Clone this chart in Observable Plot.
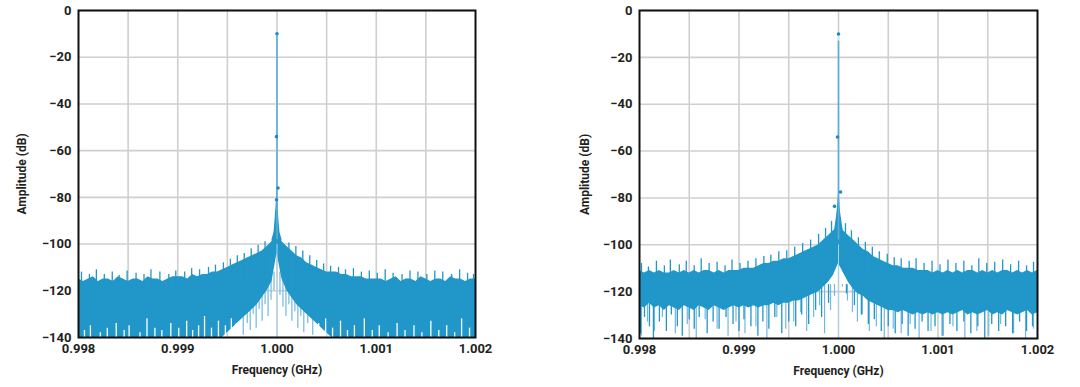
<!DOCTYPE html>
<html><head><meta charset="utf-8">
<script src="https://cdn.jsdelivr.net/npm/d3@7"></script>
<script src="https://cdn.jsdelivr.net/npm/@observablehq/plot@0.6"></script>
<style>
html,body{margin:0;padding:0;background:#fff;}
#wrap{display:flex;width:1080px;height:387px;}
#wrap > div{width:540px;height:387px;}
</style></head>
<body><div id="wrap"><div id="left"></div><div id="right"></div></div>
<script>
// ---- data (GHz, dB) ----
const freqGrid = [0.998,0.99805,0.9981,0.99815,0.9982,0.99825,0.9983,0.99835,0.9984,0.99845,0.9985,0.99855,0.9986,0.99865,0.9987,0.99875,0.9988,0.99885,0.9989,0.99895,
 0.999,0.99905,0.9991,0.99915,0.9992,0.99925,0.9993,0.99935,0.9994,0.99945,
 0.9995,0.99955,0.9996,0.99965,0.9997,0.99975,0.9998,0.99985,0.9999,0.99995,
 1.0,
 1.00005,1.0001,1.00015,1.0002,1.00025,1.0003,1.00035,1.0004,1.00045,1.0005,
 1.00055,1.0006,1.00065,1.0007,1.00075,1.0008,1.00085,1.0009,1.00095,1.001,
 1.00105,1.0011,1.00115,1.0012,1.00125,1.0013,1.00135,1.0014,1.00145,1.0015,1.00155,1.0016,1.00165,1.0017,1.00175,1.0018,1.00185,1.0019,1.00195,1.002];

// left panel: noise band envelope
const leftTop = [-115,-116,-115,-114,-116,-115,-115,-116,-114,-115,-116,-115,-115,-116,-114,-115,-115,-116,-115,-114,
 -114,-114,-115,-113,-114,-113,-113,-112,-112,-111,
 -110,-109,-108,-107,-106,-105,-104,-103,-101,-99,
 -98,
 -99,-101,-103,-105,-106,-108,-109,-110,-111,-112,
 -112,-112,-113,-113,-114,-114,-114,-115,-115,-115,
 -115,-116,-115,-114,-116,-115,-115,-116,-114,-115,-116,-115,-115,-116,-114,-115,-115,-116,-115,-115];
const leftBottom = [-140,-140,-140,-140,-140,-140,-140,-140,-140,-140,-140,-140,-140,-140,-140,-140,-140,-140,-140,-140,
 -140,-140,-140,-140,-140,-140,-140,-140,-140,-140,
 -138,-136,-134,-132,-130,-128,-126,-123,-120,-116,
 -104,
 -115,-120,-123,-126,-128,-130,-132,-134,-136,-138,
 -140,-140,-140,-140,-140,-140,-140,-140,-140,-140,
 -140,-140,-140,-140,-140,-140,-140,-140,-140,-140,-140,-140,-140,-140,-140,-140,-140,-140,-140,-140];
// left: noise peaks above the envelope
const leftPeakF = [0.99803,0.99811,0.99818,0.99826,0.99834,0.99841,0.99849,0.99858,0.99866,0.99873,0.99882,0.99891,0.99898,0.99907,0.99914,0.99922,0.99931,0.99938,0.99946,0.99953,0.9996,0.99967,0.99974,0.99981,0.99988,
 1.00012,1.00019,1.00026,1.00033,1.0004,1.00047,1.00054,1.00062,1.00069,1.00077,1.00085,1.00093,1.00101,1.00109,1.00117,1.00126,1.00134,1.00142,1.00151,1.00159,1.00167,1.00176,1.00184,1.00192,1.00198];
const leftPeakTip = [-112,-113,-111,-113,-112,-113.5,-111.5,-112.5,-113,-111,-112,-113,-111.5,-112,-110.5,-111,-110,-109,-108,-106.5,-105,-104,-102,-100.5,-99,
 -99.5,-101,-103,-105,-107,-108.5,-109.5,-110,-111,-110.5,-112,-111.5,-112.5,-111,-112.5,-113,-111.5,-112,-113,-111.5,-112,-113,-111,-112.5,-113];
// left: white gaps rising from the floor
const leftGapF = [0.99806,0.99812,0.99822,0.99829,0.99838,0.99846,0.99851,0.99862,0.99869,0.99877,0.99884,0.99893,0.99901,0.99909,0.99915,0.99921,0.99927,0.99934,0.99941,0.99948,0.99954,0.99959,
 1.00042,1.00049,1.00056,1.00064,1.00071,1.00078,1.00088,1.00096,1.00103,1.00112,1.00121,1.00129,1.00138,1.00146,1.00155,1.00163,1.00171,1.00179,1.00186,1.00194];
const leftGapTop = [-137,-135,-138,-136,-134,-137,-135,-138,-132,-136,-137,-134,-136,-133,-137,-135,-131,-136,-133,-135,-132,-134,
 -134,-132,-136,-133,-137,-135,-132,-137,-135,-138,-134,-137,-135,-138,-133,-137,-135,-138,-132,-136];
// left: light spikes below the band near the carrier
const leftSpikeF = [0.99966,0.9997,0.99973,0.99976,0.99979,0.99982,0.99985,0.99988,0.99991,0.99994,0.99997,1.00003,1.00006,1.00009,1.00012,1.00015,1.00018,1.00021,1.00024,1.00027,1.00031,1.00036];
const leftSpikeTip = [-139,-134,-137,-130,-136,-128,-133,-126,-131,-124,-120,-122,-127,-131,-126,-133,-129,-136,-131,-138,-134,-139];

// right panel: noise band envelope
const rightTop = [-111,-112,-111,-112,-111,-112,-112,-111,-112,-111,-112,-111,-112,-111,-111,-112,-111,-112,-111,-111,
 -111,-110,-110,-110,-109,-108,-108,-107,-107,-106,
 -106,-105,-104,-103,-102,-101,-100,-98,-96,-94,
 -92,
 -94,-96,-98,-100,-102,-103,-105,-106,-107,-108,
 -109,-109,-110,-110,-110,-111,-111,-111,-112,-111,
 -112,-111,-112,-111,-112,-111,-111,-112,-111,-112,-111,-112,-111,-111,-112,-111,-112,-111,-112,-111];
const rightBottom = [-126,-127,-125,-127,-126,-128,-126,-127,-128,-126,-127,-128,-126,-127,-128,-126,-127,-128,-127,-126,
 -127,-126,-127,-126,-127,-126,-126,-125,-126,-125,
 -125,-124,-124,-123,-122,-121,-120,-118,-116,-113,
 -108,
 -112,-116,-119,-121,-122,-124,-125,-126,-127,-128,
 -128,-129,-128,-129,-130,-129,-130,-129,-130,-129,
 -130,-129,-130,-129,-128,-130,-129,-130,-129,-128,-130,-129,-130,-128,-129,-130,-129,-128,-130,-129];
const rightPeakF = [0.99802,0.99809,0.99817,0.99825,0.99831,0.9984,0.99847,0.99855,0.99862,0.9987,0.99878,0.99886,0.99893,0.99901,0.99909,0.99917,0.99925,0.99932,0.9994,0.99948,0.99956,0.99964,0.99972,0.9998,0.99987,0.99993,
 1.00007,1.00013,1.0002,1.00027,1.00034,1.00041,1.00049,1.00056,1.00063,1.00071,1.00078,1.00086,1.00094,1.00102,1.0011,1.00118,1.00126,1.00134,1.00141,1.00149,1.00157,1.00165,1.00173,1.00181,1.00189,1.00196];
const rightPeakTip = [-108,-109.5,-107,-109,-106.5,-108.5,-107,-109,-106,-108,-107.5,-109,-106.5,-108,-107,-106,-105,-104.5,-103,-102.5,-101,-99.5,-98,-95.5,-93,-90,
 -91,-94,-97,-99,-101,-103,-104,-105.5,-106,-107,-106,-108,-107,-108.5,-106.5,-108,-107,-109,-106,-108,-107.5,-106.5,-108.5,-107,-109,-107.5];
// right: dark spikes hanging below the band
const rightDarkF = [0.99801,0.99805,0.9981,0.99814,0.9982,0.99827,0.99832,0.99838,0.99843,0.9985,0.99855,0.9986,0.99868,0.99874,0.9988,0.99887,0.99894,0.999,0.99905,0.99912,0.99919,0.99924,0.9993,0.99936,0.99943,0.9995,0.99957,0.99963,0.9997,0.99977,0.99983,0.9999,
 1.00008,1.00016,1.00023,1.0003,1.00036,1.00043,1.0005,1.00057,1.00064,1.0007,1.00077,1.00084,1.0009,1.00097,1.00105,1.00112,1.00119,1.00126,1.00133,1.0014,1.00147,1.00154,1.00161,1.00168,1.00175,1.00182,1.00189,1.00195];
const rightDarkTip = [-138,-131,-135,-140,-133,-137,-130,-135,-139,-132,-136,-131,-138,-133,-136,-131,-134,-137,-132,-135,-139,-133,-136,-131,-138,-133,-135,-130,-134,-128,-131,-125,
 -121,-126,-130,-134,-132,-137,-135,-138,-134,-139,-136,-133,-137,-135,-139,-134,-137,-133,-138,-135,-140,-134,-137,-135,-138,-133,-137,-135];
// right: light spikes reaching the floor
const rightSpikeF = [0.99802,0.99808,0.99815,0.99823,0.99836,0.99848,0.99857,0.99866,0.99878,0.99889,0.99897,0.99906,0.99917,0.99928,0.99938,0.99947,0.99955,0.99962,0.99968,0.99975,0.99981,0.99986,0.99992,0.99996,
 1.00004,1.00009,1.00014,1.00019,1.00024,1.00031,1.00038,1.00046,1.00055,1.00063,1.00072,1.00081,1.00093,1.00104,1.00115,1.00127,1.00139,1.00151,1.00163,1.00176,1.00188,1.00196];
const rightSpikeTip = [-139,-133,-137,-131,-138,-134,-140,-132,-136,-139,-133,-138,-135,-140,-131,-136,-133,-129,-137,-131,-126,-138,-128,-122,
 -118,-124,-129,-133,-130,-137,-135,-140,-136,-138,-134,-140,-137,-139,-135,-140,-137,-139,-134,-138,-140,-136];

// carrier skirt and marked points
const leftSkirtF = [0.99995,0.99997,0.99998,0.99999,1.0,1.00001,1.00002,1.00003,1.00005];
const leftSkirtTop = [-98,-95,-90,-84,-76,-84,-90,-95,-98];
const rightSkirtF = [0.99994,0.99996,0.99998,0.99999,1.0,1.00001,1.00002,1.00004,1.00006];
const rightSkirtTop = [-98,-94,-88,-84,-78,-80,-86,-92,-97];
const leftDotF = [1.0,0.999995,1.00001,0.999995];
const leftDotY = [-10,-54,-76,-81];
const rightDotF = [1.0,0.99999,1.00002,0.99996];
const rightDotY = [-10,-54,-77.5,-83.6];

const peakTop = -10;
const xTicks = [0.998,0.999,1.000,1.001,1.002];
const xGrid = [0.9985,0.999,0.9995,1.000,1.0005,1.001,1.0015];
const yTicks = [0,-20,-40,-60,-80,-100,-120,-140];

// ---- drawing ----
const BLUE = "#2196c8";
const LIGHT = "#72b8de";
const zip = (fs, ys) => fs.map((f, i) => ({f, y: ys[i]}));

function panel(o) {
  const band = freqGrid.map((f,i)=>({f, hi:o.top[i], lo:o.bottom[i]}));
  const marks = [
    Plot.gridX(xGrid, {stroke: "#cfcfcf", strokeOpacity: 1, strokeWidth: 1.6}),
    Plot.gridY(yTicks, {stroke: "#cfcfcf", strokeOpacity: 1, strokeWidth: 1.6}),
    Plot.ruleX(zip(o.spikeF, o.spikeTip), {x: "f", y1: "y", y2: o.inner, stroke: LIGHT, strokeWidth: 1.2})
  ];
  if (o.darkF) marks.push(Plot.ruleX(zip(o.darkF, o.darkTip), {x: "f", y1: "y", y2: o.inner, stroke: BLUE, strokeWidth: 1.3}));
  marks.push(
    Plot.areaY(band, {x: "f", y1: "lo", y2: "hi", fill: BLUE, curve: "linear"}),
    Plot.ruleX(zip(o.peakF, o.peakTip), {x: "f", y1: o.peakBase, y2: "y", stroke: BLUE, strokeWidth: 1.3})
  );
  if (o.gapF) marks.push(Plot.ruleX(zip(o.gapF, o.gapTop), {x: "f", y1: -140, y2: "y", stroke: "#fff", strokeWidth: 1.3}));
  marks.push(
    Plot.ruleX([1.0], {y1: -140, y2: -100, stroke: "#a9d3ea", strokeWidth: 1}),
    Plot.areaY(zip(o.skirtF, o.skirtTop), {x: "f", y1: -100, y2: "y", fill: BLUE, curve: "linear"}),
    Plot.ruleX([1.0], {y1: -98, y2: o.peakStart, stroke: "#5aaed8", strokeWidth: 1.6}),
    Plot.ruleX([1.0], {y1: o.peakStart, y2: peakTop, stroke: "#cfe6f3", strokeWidth: 1.6}),
    Plot.dot(zip(o.dotF, o.dotY), {x: "f", y: "y", r: 1.8, fill: "#1a8cc4", stroke: "none"}),
    Plot.frame({stroke: "#111", strokeWidth: 2}),
    Plot.axisX(xTicks, {tickSize: 0, tickPadding: 6, tickFormat: d => d.toFixed(3),
      label: "Frequency (GHz)", labelAnchor: "center", labelArrow: "none", labelOffset: 36}),
    Plot.axisY(yTicks, {tickSize: 0, tickPadding: 7, tickFormat: d => String(d).replace("-", "\u2212"),
      label: "Amplitude (dB)", labelAnchor: "center", labelArrow: "none", labelOffset: o.lo})
  );
  const svg = Plot.plot({
    width: 540, height: 387,
    marginLeft: o.ml, marginRight: o.mr, marginTop: 10, marginBottom: o.mb,
    style: {fontFamily: "Roboto, 'DejaVu Sans', sans-serif", fontWeight: 700, fontSize: "13px", color: "#231f20", background: "#fff"},
    x: {domain: [0.998, 1.002]},
    y: {domain: [-140, 0]},
    marks
  });
  svg.querySelectorAll('[aria-label$="axis label"] text, [aria-label$="axis label"]').forEach(t => t.setAttribute("font-size", "12"));
  return svg;
}

document.getElementById("left").append(panel({
  top: leftTop, bottom: leftBottom, spikeF: leftSpikeF, spikeTip: leftSpikeTip,
  peakF: leftPeakF, peakTip: leftPeakTip, peakBase: -118, gapF: leftGapF, gapTop: leftGapTop,
  skirtF: leftSkirtF, skirtTop: leftSkirtTop, dotF: leftDotF, dotY: leftDotY, inner: -112,
  ml: 78, mr: 65, mb: 50, lo: 61, peakStart: -11
}));
document.getElementById("right").append(panel({
  top: rightTop, bottom: rightBottom, spikeF: rightSpikeF, spikeTip: rightSpikeTip,
  darkF: rightDarkF, darkTip: rightDarkTip,
  peakF: rightPeakF, peakTip: rightPeakTip, peakBase: -113,
  skirtF: rightSkirtF, skirtTop: rightSkirtTop, dotF: rightDotF, dotY: rightDotY, inner: -117,
  ml: 99, mr: 43, mb: 49, lo: 59, peakStart: -13
}));
</script>
</body></html>
